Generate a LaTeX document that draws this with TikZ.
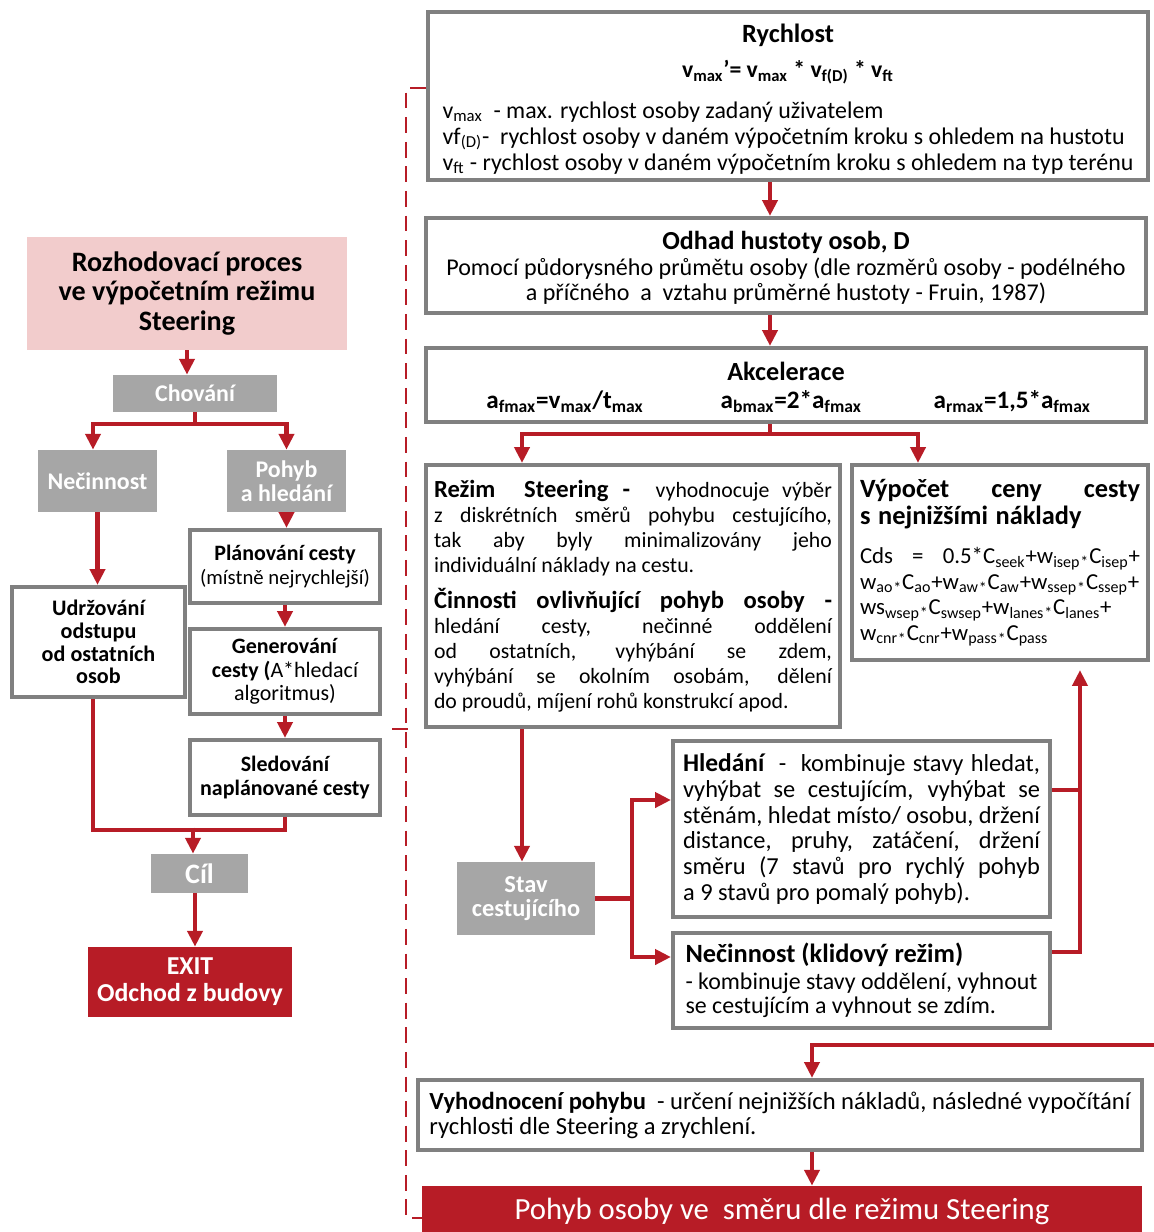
\documentclass[tikz,border=0pt]{standalone}
\usepackage{fontspec}
\setmainfont{Carlito}
\usetikzlibrary{arrows.meta,positioning}
\definecolor{colorRED}{RGB}{183,28,38}
\definecolor{colorEDGE}{RGB}{128,128,128}
\definecolor{colorGRAY}{RGB}{166,166,166}
\definecolor{colorPINK}{RGB}{242,204,204}
\newcommand{\sbs}[1]{\textsubscript{#1}}
\newcommand{\mul}{\textsubscript{*}}
\newcommand{\fs}[2]{\fontsize{#1}{#2}\selectfont}
\tikzset{
   every path/.style={>={Triangle[length=9pt,width=8.5pt]}},
   box/.style={draw=colorEDGE,line width=2.4pt,fill=white,inner sep=0pt},
   gbox/.style={fill=colorGRAY,text=white,inner sep=0pt,align=center,font=\fs{13.6}{13.8}\bfseries},
   rbox/.style={fill=colorRED,text=white,inner sep=0pt,align=center},
   flow/.style={->,color=colorRED,line width=2.4pt},
   link/.style={-,color=colorRED,line width=2.4pt},
   loopback/.style={color=colorRED,line width=1.3pt,dash pattern=on 9pt off 5pt},
}

\begin{document}
\begin{tikzpicture}[x=0.02cm,y=-0.02cm]
      \useasboundingbox (0,0) rectangle (1154,1232);
      % left column
      \node[fill=colorPINK,minimum width=6.4cm,minimum height=2.26cm,align=center,font=\fs{16}{16.8}\bfseries] (rozh) at (187,293.5) {Rozhodovací proces\\ve výpočetním režimu\\Steering};
      \node[gbox,minimum width=3.28cm,minimum height=0.74cm] (chov) at (195,393.5) {Chování};
      \node[gbox,minimum width=2.38cm,minimum height=1.24cm] (nec1) at (97.5,481) {Nečinnost};
      \node[gbox,minimum width=2.38cm,minimum height=1.24cm] (poh) at (286.5,481) {Pohyb\\a hledání};
      \node[box,minimum width=3.46cm,minimum height=2.2cm,align=center,font=\fs{12.6}{13}\bfseries] (udrz) at (98.5,642) {Udržování\\odstupu\\od ostatních\\osob};
      \node[box,minimum width=3.8cm,minimum height=1.46cm,align=center,font=\fs{12.5}{13.5}] (plan) at (285,566.5) {\textbf{Plánování cesty}\\{\fs{11.8}{13.5}(místně nejrychlejší)}};
      \node[box,minimum width=3.8cm,minimum height=1.7cm,align=center,font=\fs{12.5}{13.5}] (gen) at (285,671.5) {\textbf{Generování}\\\textbf{cesty (}A*hledací\\algoritmus)};
      \node[box,minimum width=3.8cm,minimum height=1.5cm,align=center,font=\fs{12.5}{13.5}\bfseries] (sled) at (285,777.5) {Sledování\\naplánované cesty};
      \node[gbox,minimum width=1.94cm,minimum height=0.78cm,font=\fs{16}{17}\bfseries] (cil) at (199.5,873.5) {Cíl};
      \node[rbox,minimum width=4.08cm,minimum height=1.4cm,font=\fs{14.7}{15.5}\bfseries] (exit) at (190,982) {EXIT\\Odchod z budovy};
      % right column
      \node[box,minimum width=14.4cm,minimum height=3.36cm,align=center] (rych) at (788,96) {%
        {\fs{15}{17}\bfseries\rule{0pt}{16pt}Rychlost}\\[7pt]
        {\fs{13.5}{15}\bfseries v\sbs{max}’= v\sbs{max} * v\sbs{f(D)} * v\sbs{ft}}\\[8pt]
        {\fs{13.6}{14.8}\begin{tabular}{@{}l@{}}
          v\sbs{max} \ - max. rychlost osoby zadaný uživatelem\\
          vf\sbs{(D)}-\ \ rychlost osoby v daném výpočetním kroku s ohledem na hustotu\\
          v\sbs{ft} - rychlost osoby v daném výpočetním kroku s ohledem na typ terénu
        \end{tabular}}};
      \node[box,minimum width=14.4cm,minimum height=1.9cm,align=center,font=\fs{13.7}{14}] (odh) at (786,265.5) {%
        {\fs{14.8}{16}\bfseries\rule{0pt}{13pt}Odhad hustoty osob, D}\\[1pt]
        Pomocí půdorysného průmětu osoby (dle rozměrů osoby - podélného\\
        a příčného \ a \ vztahu průměrné hustoty - Fruin, 1987)};
      \node[box,minimum width=14.4cm,minimum height=1.48cm,align=center,font=\fs{14.3}{16}\bfseries] (akc) at (786,385) {%
        {\fs{14.9}{16}\rule{0pt}{13pt}Akcelerace}\\
        \makebox[4.8cm]{a\sbs{fmax}=v\sbs{max}/t\sbs{max}}\makebox[4.25cm]{a\sbs{bmax}=2*a\sbs{fmax}}\makebox[4.59cm]{a\sbs{rmax}=1,5*a\sbs{fmax}}};
      \node[box,minimum width=8.28cm,minimum height=5.24cm,text width=7.96cm,align=justify,font=\fs{12.4}{14.3}] (rez) at (633,596) {%
        {\fs{14}{14.3}\bfseries Režim \ Steering -} \ vyhodnocuje výběr\linebreak
        z diskrétních směrů pohybu cestujícího,\linebreak
        tak aby byly minimalizovány jeho\linebreak
        individuální náklady na cestu.\par\vspace{6pt}
        {\fs{14}{14.3}\bfseries Činnosti ovlivňující pohyb osoby -}\linebreak
        hledání cesty, nečinné oddělení\linebreak
        od ostatních, vyhýbání se zdem,\linebreak
        vyhýbání se okolním osobám, dělení\linebreak
        do proudů, míjení rohů konstrukcí apod.\par};
      \node[box,minimum width=5.92cm,minimum height=3.9cm,text width=5.6cm,align=left,font=\fs{13}{14.5}] (vyp) at (1000,562.5) {%
        {\fs{15}{15.5}\bfseries Výpočet\hfill ceny\hfill cesty\\ s nejnižšími náklady\par}\vspace{8pt}
        Cds\hfill=\hfill 0.5*C\sbs{seek}+w\sbs{isep}\mul C\sbs{isep}+\\
        w\sbs{ao}\mul C\sbs{ao}+w\sbs{aw}\mul C\sbs{aw}+w\sbs{ssep}\mul C\sbs{ssep}+\\
        ws\sbs{wsep}\mul C\sbs{swsep}+w\sbs{lanes}\mul C\sbs{lanes}+\\
        w\sbs{cnr}\mul C\sbs{cnr}+w\sbs{pass}\mul C\sbs{pass}\par};
      \node[gbox,minimum width=2.76cm,minimum height=1.46cm,font=\fs{13.9}{14}\bfseries] (stav) at (526,898.5) {Stav\\cestujícího};
      \node[box,minimum width=7.54cm,minimum height=3.52cm,text width=7.14cm,align=justify,font=\fs{13.9}{14.6}] (hled) at (861.5,829) {%
        {\fs{14.5}{14.6}\bfseries Hledání} \ - \ kombinuje stavy hledat,\linebreak
        vyhýbat se cestujícím, vyhýbat se\linebreak
        stěnám, hledat místo/ osobu, držení\linebreak
        distance, pruhy, zatáčení, držení\linebreak
        směru (7 stavů pro rychlý pohyb\linebreak
        a 9 stavů pro pomalý pohyb).\par};
      \node[box,minimum width=7.54cm,minimum height=1.9cm,align=left,font=\fs{13.6}{14}] (nec2) at (861.5,980.5) {%
        {\fs{15}{16}\bfseries Nečinnost (klidový režim)}\\[1pt]
        - kombinuje stavy oddělení, vyhnout\\
        se cestujícím a vyhnout se zdím.};
      \node[box,minimum width=14.48cm,minimum height=1.4cm,align=left,font=\fs{14}{14.3}] (vyho) at (780,1115) {%
        \textbf{Vyhodnocení pohybu} \ - určení nejnižších nákladů, následné vypočítání\\
        rychlosti dle Steering a zrychlení.};
      \node[rbox,minimum width=14.4cm,minimum height=1.0cm,font=\fs{17.5}{18}] (pohyb) at (782,1211) {Pohyb osoby ve \ směru dle režimu Steering};
      \coordinate (rimright) at (1154,1045);
      % connectors, left
      \draw[flow] (rozh.south) -- (rozh.south |- chov.north);
      \draw[link] (chov.south) -- ++(0,12) coordinate (chovsplit);
      \draw[flow] (chovsplit) -| ([xshift=-0.09cm]nec1.north);
      \draw[flow] (chovsplit) -| (poh.north);
      \draw[flow] (nec1.south) -- (nec1.south |- udrz.north);
      \draw[flow] (poh.south) -- (poh.south |- plan.north);
      \draw[flow] (plan.south) -- (plan.south |- gen.north);
      \draw[flow] (gen.south) -- (gen.south |- sled.north);
      \draw[link] ([xshift=-0.11cm]udrz.south) |- ([yshift=-0.26cm]sled.south) -- (sled.south);
      \draw[flow] ([xshift=-0.13cm,yshift=0.52cm]cil.north) -- ([xshift=-0.13cm]cil.north);
      \draw[flow] ([xshift=-0.09cm]cil.south) -- ([xshift=-0.09cm]cil.south |- exit.north);
      % connectors, right
      \draw[flow] ([xshift=-0.36cm]rych.south) -- ([xshift=-0.36cm]rych.south |- odh.north);
      \draw[flow] ([xshift=-0.32cm]odh.south) -- ([xshift=-0.32cm]odh.south |- akc.north);
      \draw[link] ([xshift=-0.32cm]akc.south) -- ++(0,10) coordinate (akcsplit);
      \draw[flow] (akcsplit) -| ([xshift=-2.22cm]rez.north);
      \draw[flow] (akcsplit) -| ([xshift=-1.64cm]vyp.north);
      \draw[flow] ([xshift=-0.08cm]stav.north |- rez.south) -- ([xshift=-0.08cm]stav.north);
      \draw[link] (stav.east) -- ++(37,0) coordinate (stavsplit);
      \draw[flow] (stavsplit) |- ([yshift=0.58cm]hled.west);
      \draw[flow] (stavsplit) |- ([yshift=0.47cm]nec2.west);
      \draw[link] ([yshift=0.78cm]hled.east) -- ++(30,0);
      \draw[flow] ([yshift=0.57cm]nec2.east) -| ([xshift=1.6cm,yshift=-0.16cm]vyp.south);
      \draw[flow] (rimright) -| ([xshift=0.64cm]vyho.north);
      \draw[flow] ([xshift=0.64cm]vyho.south) -- ([xshift=0.64cm]vyho.south |- pohyb.north);
      % feedback
      \draw[loopback] ([yshift=0.16cm]rych.west) -- ++(-20,0) |- ([yshift=-0.14cm]pohyb.west);
      \draw[loopback] ([xshift=0.2cm,yshift=-0.26cm]gen.south east) -- ++(18,0);
\end{tikzpicture}
\end{document}
